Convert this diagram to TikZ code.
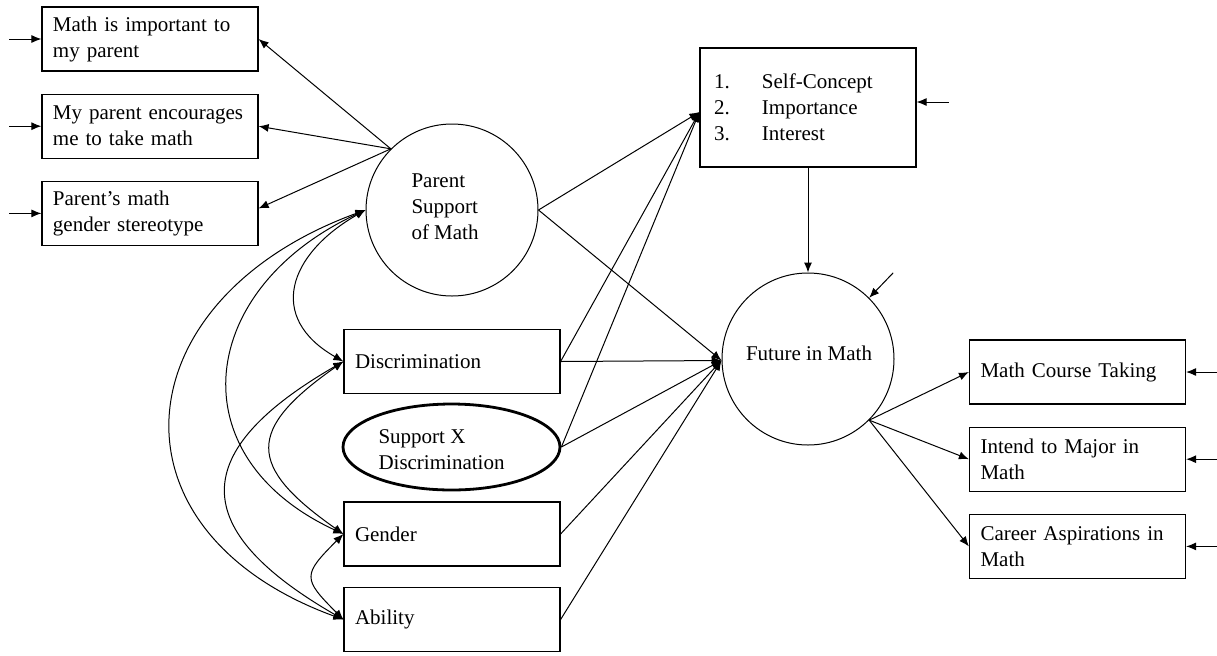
\documentclass[tikz,border=0pt]{standalone}
\usepackage{fontspec}
\setmainfont{Liberation Serif}
\usepackage{tikz}
\usetikzlibrary{positioning, arrows.meta,
shapes.geometric % for the ellipse of the interaction term
}
\newcommand{\itm}[1]{\makebox[24pt][l]{#1}}
\tikzset{%
  x=0.5pt, y=-0.5pt, % one unit is one pixel of the scanned figure
  obs/.style={draw, line width=0.6pt, rectangle, minimum width=108pt, minimum height=32pt,
    text width=97pt, inner xsep=5.5pt, align=left},
  lat/.style={draw, line width=0.5pt, circle, minimum size=86pt, inner sep=0pt},
  prod/.style={draw, line width=1.4pt, ellipse, minimum width=108.5pt, minimum height=43pt, inner sep=0pt},
  txt/.style={align=left, inner sep=0pt},
  every edge/.style={%
    draw, ->, line width=0.5pt
  }
}

\begin{document}
\begin{tikzpicture}[font=\fontsize{10.5pt}{13pt}\selectfont, node distance=11pt, line width=0.5pt, >={Latex[length=5pt, width=4pt]}]
\useasboundingbox (0,0) rectangle (1217,655);

\node[obs] (imp) at (150,39) {Math is important to\\my parent};
\node[obs, below=of imp] (enc) {My parent encourages\\me to take math};
\node[obs, below=of enc] (ster) {Parent's math\\gender stereotype};
\coordinate[left=16pt of imp] (eimp);
\coordinate[left=16pt of enc] (eenc);
\coordinate[left=16pt of ster] (ester);

\node[lat] (par) at (452,210) {};
\node[txt, anchor=west] (parl) at (411,207) {Parent\\Support\\of Math};

\node[obs] (disc) at (452,361.5) {Discrimination};
\node[prod] (sxd) at (451.5,447) {};
\node[txt, anchor=west] (sxdl) at (378,450) {Support X\\Discrimination};
\node[obs] (gen) at (452,534) {Gender};
\node[obs] (abil) at (452,619.5) {Ability};

\node[obs, minimum height=59.5pt, inner xsep=7pt, text width=94pt] (self) at (808,107.5)
  {\itm{1.}Self-Concept\\\itm{2.}Importance\\\itm{3.}Interest};
\coordinate (sin) at ([yshift=-2.25pt]self.west);
\coordinate[right=16pt of self.east, yshift=2.75pt] (eself);

\node[lat] (fut) at (808,359) {};
\node[txt] (futl) at (809,353) {Future in Math};
\coordinate (efut) at ([shift={(12pt,12.5pt)}]fut.45);

\node[obs] (crs) at (1077.5,372) {Math Course Taking};
\node[obs, below=of crs] (maj) {Intend to Major in\\Math};
\node[obs, below=of maj] (car) {Career Aspirations in\\Math};
\coordinate[right=15.5pt of crs] (ecrs);
\coordinate[right=15.5pt of maj] (emaj);
\coordinate[right=15.5pt of car] (ecar);

% measurement part
\draw (par.135) edge (imp.east) edge (enc.east) edge ([yshift=2.5pt]ster.east);
\draw (eimp) edge (imp) (eenc) edge (enc) (ester) edge (ster);
\draw (fut.-45) edge (crs.west) edge (maj.west) edge (car.west);
\draw (ecrs) edge (crs) (emaj) edge (maj) (ecar) edge (car);

% paths
\draw (par.east) edge (sin) edge (fut.181);
\draw (disc.east) edge (sin) edge (fut.181);
\draw (sxd.east) edge (sin) edge (fut.181);
\draw (gen.east) edge (fut.181);
\draw (abil.east) edge (fut.181);
\draw (self) edge (fut);
\draw (eself) edge (eself -| self.east);
\draw (efut) edge (fut.45);

% covariances
\draw[<->] (par.west) .. controls +(-77,44) and +(-77,-44) .. (disc.west);
\draw[<->] (par.west) .. controls +(-168,78) and +(-168,-78) .. (gen.west);
\draw[<->] (par.west) .. controls +(-244,89) and +(-244,-89) .. (abil.west);
\draw[<->] (disc.west) .. controls +(-97,68) and +(-97,-68) .. (gen.west);
\draw[<->] (disc.west) .. controls +(-156,90) and +(-156,-90) .. (abil.west);
\draw[<->] (gen.west) .. controls +(-41,41) and +(-41,-41) .. (abil.west);
\end{tikzpicture}
\end{document}
